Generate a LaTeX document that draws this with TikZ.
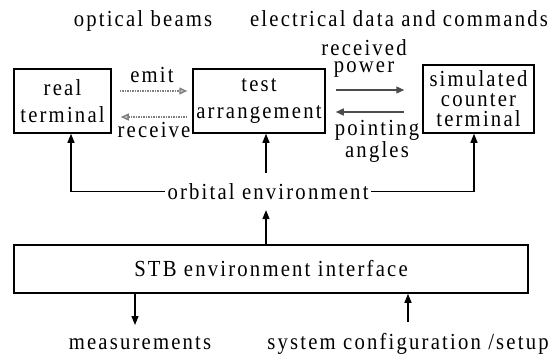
\documentclass[tikz,border=0pt]{standalone}
\usepackage{fontspec}
\setmainfont{Liberation Serif}[LetterSpace=9.5,FakeStretch=0.9]
\usetikzlibrary{arrows.meta,calc}
\begin{document}
\begin{tikzpicture}[x=1pt,y=-1pt,
  every node/.style={font=\fontsize{23}{20}\selectfont, inner sep=0pt},
  box/.style={draw, line width=1.5pt, align=center},
  conn/.style={line width=1.2pt, -{Triangle[length=9pt,width=7pt]}},
  optic/.style={line width=1.3pt, gray, dash pattern=on 1.5pt off 1pt, -{Triangle[length=8pt,width=7pt,fill=gray!50]}},
  elec/.style={line width=1.3pt, black!70, -{Triangle[length=8pt,width=7pt]}},
  lbl/.style={align=center}]
\useasboundingbox (0,0) rectangle (560,356);
% boxes
\node[box, minimum width=97pt, minimum height=64pt] (real) at (62.5,101) {real\\[7pt]terminal};
\node[box, minimum width=132pt, minimum height=64pt] (test) at (259,101) {test\\[7pt]arrangement};
\node[box, minimum width=111pt, minimum height=68pt] (sim) at (478.5,99) {simulated\\counter\\terminal};
\node[box, minimum width=514pt, minimum height=48pt] (stb) at (271,269) {STB environment interface};
\node[inner ysep=10.3pt, inner xsep=2.5pt] (orb) at (268,191.5) {orbital environment};
% headings
\node[anchor=base] (ob) at (143,26) {optical beams};
\node[anchor=base] (ed) at (399,26) {electrical data and commands};
% arrow labels
\node[anchor=base] (emit) at (152,82) {emit};
\node[anchor=base] (recv) at (154,137) {receive};
\node[lbl, anchor=base] (rp) at (364,72) {received\\[-3pt]power};
\node[lbl, anchor=base] (pa) at (377,157) {pointing\\angles};
% bottom labels
\node[anchor=base] (meas) at (140,349) {measurements};
\node[anchor=base] (sys) at (408,349) {system configuration /setup};
\coordinate (mtip) at (135,325);
% optical arrows
\draw[optic] ($(real.east)+(8,-10)$) -- ($(test.west)+(-5,-10)$);
\draw[optic] ($(test.west)+(-5,16)$) -- ($(real.east)+(9,16)$);
% electrical arrows
\draw[elec] ($(test.east)+(10,-11)$) -- ($(test.east -| sim.west)+(-18,-11)$);
\draw[elec] ($(test.east -| sim.west)+(-18,11)$) -- ($(test.east)+(10,11)$);
% orbital environment
\draw[conn] (orb.west) -| ([xshift=8.5pt]real.south);
\draw[conn] (orb.east) -| ([xshift=-4.5pt]sim.south);
\draw[conn] ([xshift=-2pt]orb.north) -- ([xshift=-2pt]orb.north |- test.south);
\draw[conn] ([xshift=-2pt]orb.north |- stb.north) -- ([xshift=-2pt]orb.south);
% bottom
\draw[conn] (stb.south -| mtip) -- (mtip);
\draw[conn] ([yshift=11pt]sys.north) -- (sys.north |- stb.south);
\end{tikzpicture}
\end{document}
